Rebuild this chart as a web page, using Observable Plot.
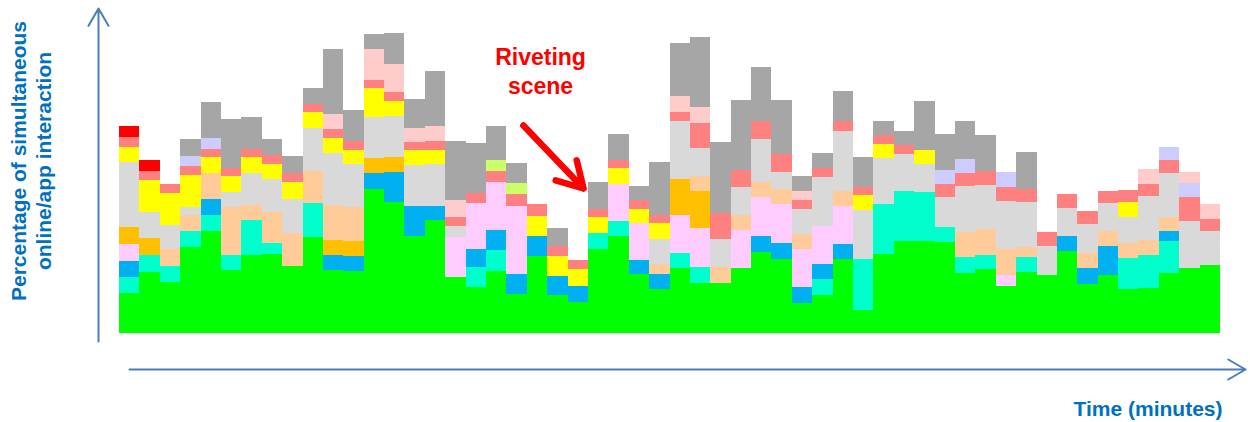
<!DOCTYPE html>
<html>
<head>
<meta charset="utf-8">
<script src="https://cdn.jsdelivr.net/npm/d3@7"></script>
<script src="https://cdn.jsdelivr.net/npm/@observablehq/plot@0.6"></script>
<style>
  html, body { margin: 0; padding: 0; background: #fff; }
  #chart { width: 1250px; height: 422px; }
</style>
</head>
<body>
<div id="chart"></div>
<script>
// Share of viewers interacting online/in an app, minute by minute (percent),
// split by activity. Series are listed bottom-to-top of the stack.
const green     = [8.1,12.3,10.3,17.3,20.5,12.6,15.7,15.9,13.5,19.2, 12.7,12.5,28.9,26.3,19.5,22.6,11.3,9.3,12.5,7.9, 15.4,7.6,6.2,16.9,19.5,11.8,8.9,13,10.1,10.1, 13.1,16.3,14.9,6.1,7.7,14.8,4.6,15.9,18.5,18.5, 18.3,12.1,12.9,9.5,12.3,11.7,16.5,9.9,11.6,8.8, 9.1,12.1,13.1,13.7];
const aqua      = [3.2,3.3,3.2,3.2,3.2,3.1,6.9,2.2,0,6.9, 0,0,0,0,0,0,0,3.9,4.1,0, 0,0,0,3.1,2.9,0,0,3,3.1,0, 0,0,0,0,3.1,0,10.3,9.9,9.9,9.7, 2.9,3.1,2.8,0,2.9,0,0,0,0,6.3, 6.5,6.4,0,0];
const blue      = [3.2,0,0,0,3.2,0,0,0,0,0, 2.9,3,3.1,5.9,5.9,2.9,0,3.6,4,3.9, 4.1,3.9,3.3,0,0,2.9,2.9,0,0,0, 0,3.2,3.2,3.1,3,3.1,0,0,0,0, 0,0,0,0,0,0,3,3.1,5.9,0, 0,1.9,0,0];
const pink      = [3.3,0,0,0,0,0,0,0,0,0, 0,0,0,0,0,0,7.9,9.2,9.7,13.7, 0,0,0,0,7.5,7.3,0,7.6,7.8,0, 7.5,7.8,7.7,7.6,7.6,7.6,0,0,0,0, 0,0,0,2.1,0,0,0,0,0,0, 0,0,0,0];
const orange    = [3.5,3.5,0,0,0,0,0,0,0,0, 3.1,3,3,3.1,0,0,0,0,0,0, 0,0,0,0,0,0,0,7.3,7.4,0, 0,0,0,0,0,0,0,0,0,0, 0,0,0,0,0,0,0,0,0,0, 0,0,0,0];
const peach     = [0,0,3.3,3.1,5.2,9.5,3,6.2,6.5,6.3, 6.9,6.8,0,0,0,0,0,0,0,0, 0,0,0,0,0,0,2,0,3.1,3.1, 3.1,3,3.1,3.1,0,2.9,0,0,0,0, 0,5.1,5.1,5.3,2,0,0,3.1,3,2.9, 3.1,2.9,0,0];
const lightGray = [12.9,5.1,4.9,1.7,0,3.1,6.5,6.5,6.9,8.7, 10.5,8.5,8.3,8.2,8.3,8.3,2.3,0,0,0, 0,0,0,0,0,0,5.1,11.6,5.5,5.7, 5.5,8.6,3.3,5,9.9,12.1,9.7,9.3,7.5,5.7, 6.1,9.1,8.9,9.5,9,5.7,5.6,5.7,5.5,5.3, 8.7,8.7,9.3,6.8];
const yellow    = [3.1,6.4,6.3,6.3,3.1,3.1,3.1,3.1,3.3,3.1, 3,2.9,5.7,3,2.9,2.9,0,0,0,0, 4,3.9,3.3,3.2,3.1,2.9,3.1,0,0,0, 0,0,0,0,0,0,3,2.8,0,2.7, 0,0,0,0,0,0,0,0,0,2.9, 0,0,0,0];
const salmon    = [1.9,1.9,1.8,1.8,1.7,1.7,1.7,1.7,1.9,1.7, 1.7,1.8,1.7,1.7,1.6,1.7,1.8,2,2.2,2.3, 2.3,2.1,1.8,1.7,1.7,1.7,1.7,1.7,5,5.1, 3.5,3.5,3.6,1.7,1.7,1.9,1.7,1.7,1.7,0, 2.6,2.7,2.7,2.9,2.7,2.8,2.8,2.7,2.5,2.5, 2.5,2.6,4.9,2.3];
const lime      = [0,0,0,0,0,0,0,0,0,0, 0,0,0,0,0,0,0,0,2.2,2.2, 0,0,0,0,0,0,0,0,0,0, 0,0,0,0,0,0,0,0,0,0, 0,0,0,0,0,0,0,0,0,0, 0,0,0,0];
const lavender  = [0,0,0,2.1,2.2,0,0,0,0,0, 0,0,0,0,0,0,0,0,0,0, 0,0,0,0,0,0,0,0,0,0, 0,0,0,0,0,0,0,0,0,0, 2.7,2.7,0,2.9,0,0,0,0,0,0, 0,2.7,2.8,0];
const lightPink = [0,0,0,0,0,0,0,0,0,0, 3.1,0,6.1,5.7,2.8,3,3.3,0,0,0, 0,0,0,0,0,0,0,3.2,3.2,0, 0,0,0,1.8,0,0,0,0,0,0, 0,0,0,0,0,0,0,0,0,0, 2.9,0,2.2,3];
const red       = [2.2,2.1,0,0,0,0,0,0,0,0, 0,0,0,0,0,0,0,0,0,0, 0,0,0,0,0,0,0,0,0,0, 0,0,0,0,0,0,0,0,0,0, 0,0,0,0,0,0,0,0,0,0, 0,0,0,0];
const gray      = [0,0,0,3.3,7.1,9.7,6.3,3.3,3.3,3.2, 12.9,6.1,3,6.1,5.9,11.1,11.9,10,6.7,4.1, 0,3.6,0,5.3,5.1,2.9,10.5,10.7,14.1,14.2, 13.9,10.9,10.9,3.1,3.1,6.1,6,2.9,2.9,9.8, 7.3,7.6,7.3,0,7.3,0,0,0,0,0, 0,0,0,0];

const seriesNames  = ["green","aqua","blue","pink","orange","peach","lightGray","yellow","salmon","lime","lavender","lightPink","red","gray"];
const seriesValues = [green, aqua, blue, pink, orange, peach, lightGray, yellow, salmon, lime, lavender, lightPink, red, gray];
const seriesColors = ["#00ff00","#00ffcc","#00b0f0","#ffccff","#ffc000","#ffcc99","#d9d9d9","#ffff00","#ff8080","#ccff66","#ccccff","#ffcccc","#ff0000","#a6a6a6"];

// Annotation: the minute the audience stopped interacting
const noteText = "Riveting\nscene";
const noteAt = {x: 20.65, y: 52.6};
const noteArrow = {x1: 19.81, y1: 41.6, x2: 22.76, y2: 29};

// Hand-drawn style axes (arrows, no ticks)
const axisArrows = [
  {x1: -1.03, y1: -1.6, x2: -1.03, y2: 65},
  {x1: 0.49, y1: -7.2, x2: 55.23, y2: -7.2}
];
const xTitle = "Time (minutes)";
const yTitle = "Percentage of simultaneous\nonline/app interaction";

const minuteCount = green.length;
const rows = [];
seriesNames.forEach((name, s) => {
  seriesValues[s].forEach((v, i) => {
    if (v > 0) rows.push({minute: i, next: i + 1, series: name, value: v});
  });
});

const font = "'Liberation Sans', Arial, Helvetica, sans-serif";
const titleBlue = "#0070c0";

const chart = Plot.plot({
  width: 1250,
  height: 422,
  marginLeft: 119,
  marginRight: 30,
  marginTop: 33,
  marginBottom: 89,
  style: {background: "#fff", fontFamily: font, overflow: "visible"},
  x: {domain: [0, minuteCount], axis: null},
  y: {domain: [0, 60], axis: null},
  color: {domain: seriesNames, range: seriesColors},
  marks: [
    Plot.rectY(rows, Plot.stackY({
      x1: "minute", x2: "next", y: "value", fill: "series", order: seriesNames,
      shapeRendering: "crispEdges"
    })),
    Plot.arrow(axisArrows, {
      x1: "x1", y1: "y1", x2: "x2", y2: "y2",
      stroke: "#4a7ebb", strokeWidth: 2, headLength: 15, headAngle: 60
    }),
    Plot.arrow([noteArrow], {
      x1: "x1", y1: "y1", x2: "x2", y2: "y2",
      stroke: "#ff0000", strokeWidth: 6.5, headLength: 7, headAngle: 60
    }),
    Plot.text([noteText], {
      x: () => noteAt.x, y: () => noteAt.y, text: d => d,
      fill: "#ff0000", fontSize: 23, fontWeight: "bold", fontFamily: font,
      textAnchor: "middle", lineAnchor: "middle", lineHeight: 1.26
    }),
    Plot.text([xTitle], {
      frameAnchor: "bottom-right", text: d => d, dx: 2, dy: 82,
      textAnchor: "end", lineAnchor: "bottom",
      fill: titleBlue, fontSize: 21, fontWeight: "bold", fontFamily: font
    }),
    Plot.text([yTitle], {
      frameAnchor: "left", text: d => d, rotate: -90, dx: -89.4, dy: -22.5,
      textAnchor: "middle", lineAnchor: "middle", lineHeight: 1.21,
      fill: titleBlue, fontSize: 21, fontWeight: "bold", fontFamily: font
    })
  ]
});

document.getElementById("chart").append(chart);
</script>
</body>
</html>
